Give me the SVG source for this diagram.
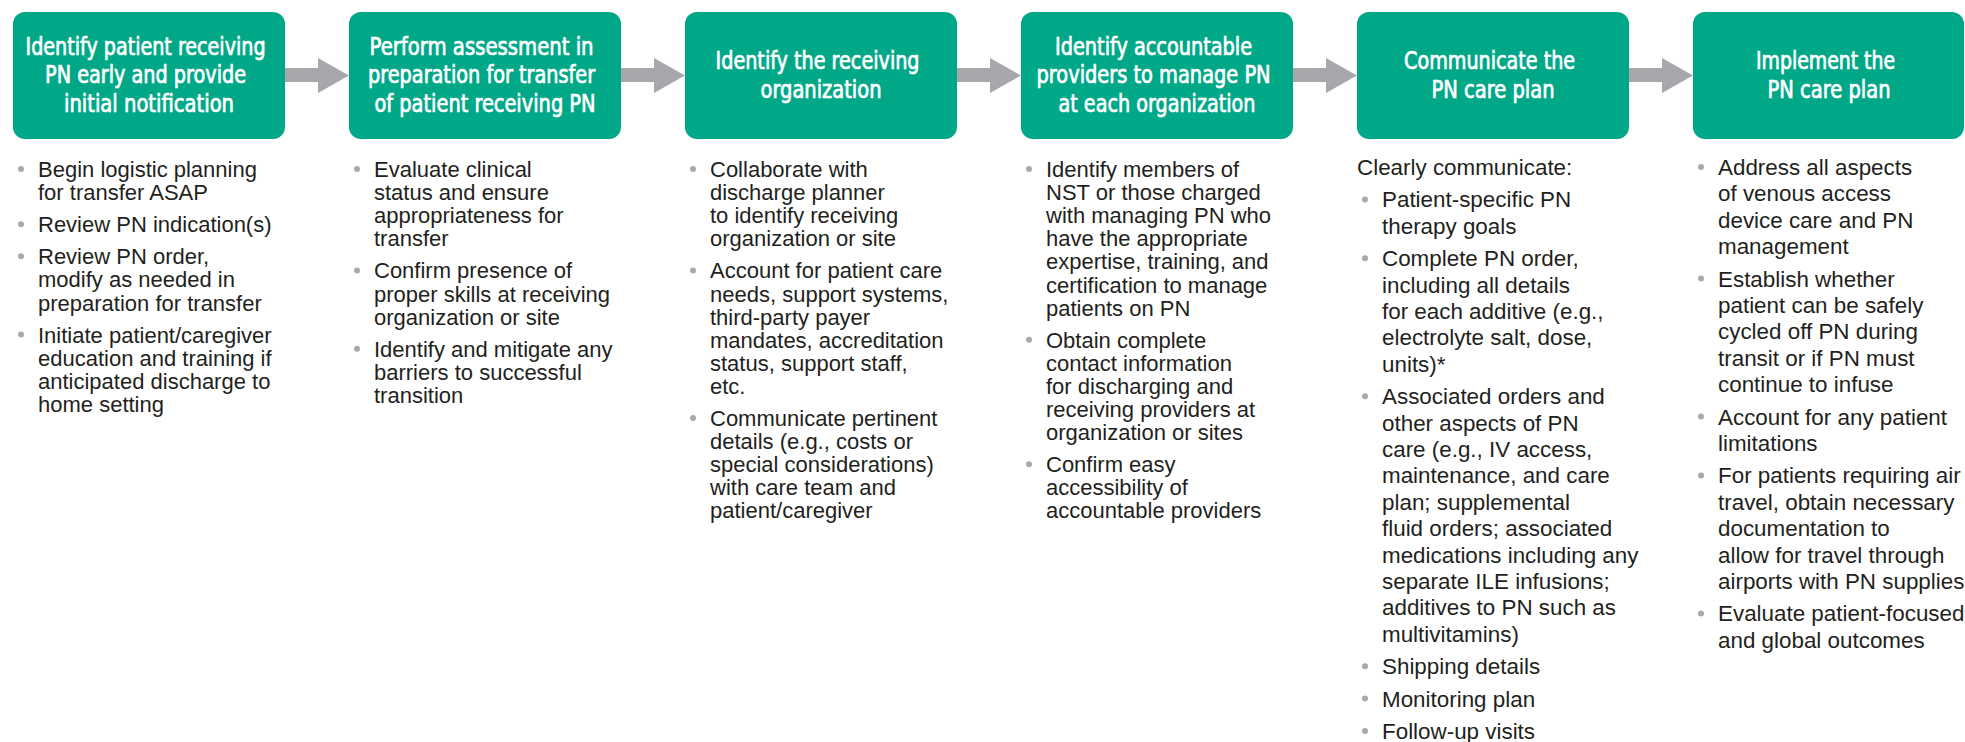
<svg xmlns="http://www.w3.org/2000/svg" width="1965" height="742" viewBox="0 0 1965 742">
  <style>
    .box { fill: #00A887; }
    .hd { font-family: "Liberation Sans Narrow", "DejaVu Sans Condensed", "Liberation Sans", sans-serif; font-size: 24px; font-weight: normal; fill: #FFFFFF; stroke: #FFFFFF; stroke-width: 0.7px; text-anchor: middle; }
    .tx { font-family: "Liberation Sans", Arial, sans-serif; font-size: 22px; fill: #231F20; }
    .tx2 { font-family: "Liberation Sans", Arial, sans-serif; font-size: 22.4px; fill: #231F20; }
    .dot { fill: #A7A9AC; }
    .arrow { fill: #A7A8AB; }
  </style>
  <defs>
    <!-- block arrow: shaft + head, starting at the right edge of a step box -->
    <path id="blockArrow" d="M0,68 H33 V58 L64,75.5 L33,93 V82 H0 Z"/>
  </defs>

  <rect width="1965" height="742" fill="#FFFFFF"/>

  <!-- connectors between steps -->
  <g id="connectors" class="arrow">
    <use href="#blockArrow" x="285"/>
    <use href="#blockArrow" x="621"/>
    <use href="#blockArrow" x="957"/>
    <use href="#blockArrow" x="1293"/>
    <use href="#blockArrow" x="1629"/>
  </g>

  <!-- step 1 -->
  <g id="step1">
    <rect class="box" x="13" y="12" width="272" height="127" rx="12"/>
    <text class="hd">
      <tspan x="149" y="55" textLength="240" lengthAdjust="spacingAndGlyphs">Identify patient receiving</tspan>
      <tspan x="149" y="83.3" textLength="201" lengthAdjust="spacingAndGlyphs">PN early and provide</tspan>
      <tspan x="149" y="111.6" textLength="170" lengthAdjust="spacingAndGlyphs">initial notification</tspan>
    </text>
    <g class="dot">
      <circle cx="21" cy="169" r="3"/>
      <circle cx="21" cy="224.2" r="3"/>
      <circle cx="21" cy="256.3" r="3"/>
      <circle cx="21" cy="334.6" r="3"/>
    </g>
    <text class="tx">
      <tspan x="38" y="177">Begin logistic planning</tspan>
      <tspan x="38" y="200.1">for transfer ASAP</tspan>
      <tspan x="38" y="232.2">Review PN indication(s)</tspan>
      <tspan x="38" y="264.3">Review PN order,</tspan>
      <tspan x="38" y="287.4">modify as needed in</tspan>
      <tspan x="38" y="310.5">preparation for transfer</tspan>
      <tspan x="38" y="342.6">Initiate patient/caregiver</tspan>
      <tspan x="38" y="365.7">education and training if</tspan>
      <tspan x="38" y="388.8">anticipated discharge to</tspan>
      <tspan x="38" y="411.9">home setting</tspan>
    </text>
  </g>

  <!-- step 2 -->
  <g id="step2">
    <rect class="box" x="349" y="12" width="272" height="127" rx="12"/>
    <text class="hd">
      <tspan x="485" y="55" textLength="224" lengthAdjust="spacingAndGlyphs">Perform assessment in</tspan>
      <tspan x="485" y="83.3" textLength="227" lengthAdjust="spacingAndGlyphs">preparation for transfer</tspan>
      <tspan x="485" y="111.6" textLength="221" lengthAdjust="spacingAndGlyphs">of patient receiving PN</tspan>
    </text>
    <g class="dot">
      <circle cx="357" cy="169" r="3"/>
      <circle cx="357" cy="270.4" r="3"/>
      <circle cx="357" cy="348.7" r="3"/>
    </g>
    <text class="tx">
      <tspan x="374" y="177">Evaluate clinical</tspan>
      <tspan x="374" y="200.1">status and ensure</tspan>
      <tspan x="374" y="223.2">appropriateness for</tspan>
      <tspan x="374" y="246.3">transfer</tspan>
      <tspan x="374" y="278.4">Confirm presence of</tspan>
      <tspan x="374" y="301.5">proper skills at receiving</tspan>
      <tspan x="374" y="324.6">organization or site</tspan>
      <tspan x="374" y="356.7">Identify and mitigate any</tspan>
      <tspan x="374" y="379.8">barriers to successful</tspan>
      <tspan x="374" y="402.9">transition</tspan>
    </text>
  </g>

  <!-- step 3 -->
  <g id="step3">
    <rect class="box" x="685" y="12" width="272" height="127" rx="12"/>
    <text class="hd">
      <tspan x="821" y="69.2" textLength="204" lengthAdjust="spacingAndGlyphs">Identify the receiving</tspan>
      <tspan x="821" y="97.5" textLength="121" lengthAdjust="spacingAndGlyphs">organization</tspan>
    </text>
    <g class="dot">
      <circle cx="693" cy="169" r="3"/>
      <circle cx="693" cy="270.4" r="3"/>
      <circle cx="693" cy="418" r="3"/>
    </g>
    <text class="tx">
      <tspan x="710" y="177">Collaborate with</tspan>
      <tspan x="710" y="200.1">discharge planner</tspan>
      <tspan x="710" y="223.2">to identify receiving</tspan>
      <tspan x="710" y="246.3">organization or site</tspan>
      <tspan x="710" y="278.4">Account for patient care</tspan>
      <tspan x="710" y="301.5">needs, support systems,</tspan>
      <tspan x="710" y="324.6">third-party payer</tspan>
      <tspan x="710" y="347.7">mandates, accreditation</tspan>
      <tspan x="710" y="370.8">status, support staff,</tspan>
      <tspan x="710" y="393.9">etc.</tspan>
      <tspan x="710" y="426">Communicate pertinent</tspan>
      <tspan x="710" y="449.1">details (e.g., costs or</tspan>
      <tspan x="710" y="472.2">special considerations)</tspan>
      <tspan x="710" y="495.3">with care team and</tspan>
      <tspan x="710" y="518.4">patient/caregiver</tspan>
    </text>
  </g>

  <!-- step 4 -->
  <g id="step4">
    <rect class="box" x="1021" y="12" width="272" height="127" rx="12"/>
    <text class="hd">
      <tspan x="1157" y="55" textLength="197" lengthAdjust="spacingAndGlyphs">Identify accountable</tspan>
      <tspan x="1157" y="83.3" textLength="234" lengthAdjust="spacingAndGlyphs">providers to manage PN</tspan>
      <tspan x="1157" y="111.6" textLength="197" lengthAdjust="spacingAndGlyphs">at each organization</tspan>
    </text>
    <g class="dot">
      <circle cx="1029" cy="169" r="3"/>
      <circle cx="1029" cy="339.7" r="3"/>
      <circle cx="1029" cy="464.2" r="3"/>
    </g>
    <text class="tx">
      <tspan x="1046" y="177">Identify members of</tspan>
      <tspan x="1046" y="200.1">NST or those charged</tspan>
      <tspan x="1046" y="223.2">with managing PN who</tspan>
      <tspan x="1046" y="246.3">have the appropriate</tspan>
      <tspan x="1046" y="269.4">expertise, training, and</tspan>
      <tspan x="1046" y="292.5">certification to manage</tspan>
      <tspan x="1046" y="315.6">patients on PN</tspan>
      <tspan x="1046" y="347.7">Obtain complete</tspan>
      <tspan x="1046" y="370.8">contact information</tspan>
      <tspan x="1046" y="393.9">for discharging and</tspan>
      <tspan x="1046" y="417">receiving providers at</tspan>
      <tspan x="1046" y="440.1">organization or sites</tspan>
      <tspan x="1046" y="472.2">Confirm easy</tspan>
      <tspan x="1046" y="495.3">accessibility of</tspan>
      <tspan x="1046" y="518.4">accountable providers</tspan>
    </text>
  </g>

  <!-- step 5 -->
  <g id="step5">
    <rect class="box" x="1357" y="12" width="272" height="127" rx="12"/>
    <text class="hd">
      <tspan x="1493" y="69.2" textLength="171" lengthAdjust="spacingAndGlyphs">Communicate the</tspan>
      <tspan x="1493" y="97.5" textLength="123" lengthAdjust="spacingAndGlyphs">PN care plan</tspan>
    </text>
    <g class="dot">
      <circle cx="1365" cy="199.4" r="3"/>
      <circle cx="1365" cy="258.2" r="3"/>
      <circle cx="1365" cy="396.2" r="3"/>
      <circle cx="1365" cy="666.2" r="3"/>
      <circle cx="1365" cy="698.6" r="3"/>
      <circle cx="1365" cy="731" r="3"/>
    </g>
    <text class="tx2">
      <tspan x="1357" y="175">Clearly communicate:</tspan>
      <tspan x="1382" y="207.4">Patient-specific PN</tspan>
      <tspan x="1382" y="233.8">therapy goals</tspan>
      <tspan x="1382" y="266.2">Complete PN order,</tspan>
      <tspan x="1382" y="292.6">including all details</tspan>
      <tspan x="1382" y="319">for each additive (e.g.,</tspan>
      <tspan x="1382" y="345.4">electrolyte salt, dose,</tspan>
      <tspan x="1382" y="371.8">units)*</tspan>
      <tspan x="1382" y="404.2">Associated orders and</tspan>
      <tspan x="1382" y="430.6">other aspects of PN</tspan>
      <tspan x="1382" y="457">care (e.g., IV access,</tspan>
      <tspan x="1382" y="483.4">maintenance, and care</tspan>
      <tspan x="1382" y="509.8">plan; supplemental</tspan>
      <tspan x="1382" y="536.2">fluid orders; associated</tspan>
      <tspan x="1382" y="562.6">medications including any</tspan>
      <tspan x="1382" y="589">separate ILE infusions;</tspan>
      <tspan x="1382" y="615.4">additives to PN such as</tspan>
      <tspan x="1382" y="641.8">multivitamins)</tspan>
      <tspan x="1382" y="674.2">Shipping details</tspan>
      <tspan x="1382" y="706.6">Monitoring plan</tspan>
      <tspan x="1382" y="739">Follow-up visits</tspan>
    </text>
  </g>

  <!-- step 6 -->
  <g id="step6">
    <rect class="box" x="1693" y="12" width="271" height="127" rx="12"/>
    <text class="hd">
      <tspan x="1829" y="69.2" textLength="139" lengthAdjust="spacingAndGlyphs">Implement the</tspan>
      <tspan x="1829" y="97.5" textLength="123" lengthAdjust="spacingAndGlyphs">PN care plan</tspan>
    </text>
    <g class="dot">
      <circle cx="1701" cy="167" r="3"/>
      <circle cx="1701" cy="278.6" r="3"/>
      <circle cx="1701" cy="416.6" r="3"/>
      <circle cx="1701" cy="475.4" r="3"/>
      <circle cx="1701" cy="613.4" r="3"/>
    </g>
    <text class="tx2">
      <tspan x="1718" y="175">Address all aspects</tspan>
      <tspan x="1718" y="201.4">of venous access</tspan>
      <tspan x="1718" y="227.8">device care and PN</tspan>
      <tspan x="1718" y="254.2">management</tspan>
      <tspan x="1718" y="286.6">Establish whether</tspan>
      <tspan x="1718" y="313">patient can be safely</tspan>
      <tspan x="1718" y="339.4">cycled off PN during</tspan>
      <tspan x="1718" y="365.8">transit or if PN must</tspan>
      <tspan x="1718" y="392.2">continue to infuse</tspan>
      <tspan x="1718" y="424.6">Account for any patient</tspan>
      <tspan x="1718" y="451">limitations</tspan>
      <tspan x="1718" y="483.4">For patients requiring air</tspan>
      <tspan x="1718" y="509.8">travel, obtain necessary</tspan>
      <tspan x="1718" y="536.2">documentation to</tspan>
      <tspan x="1718" y="562.6">allow for travel through</tspan>
      <tspan x="1718" y="589">airports with PN supplies</tspan>
      <tspan x="1718" y="621.4">Evaluate patient-focused</tspan>
      <tspan x="1718" y="647.8">and global outcomes</tspan>
    </text>
  </g>
</svg>
